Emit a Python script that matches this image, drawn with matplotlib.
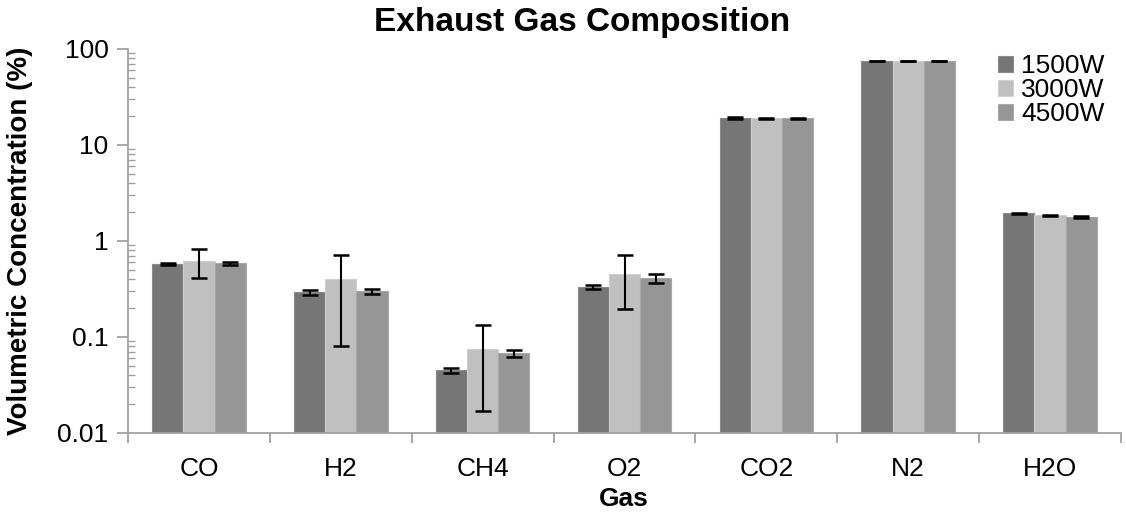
import matplotlib
matplotlib.use("Agg")
import matplotlib.pyplot as plt
import numpy as np
from matplotlib.ticker import LogLocator, FixedLocator, NullFormatter, FixedFormatter

plt.rcParams['font.family'] = ['Liberation Sans', 'DejaVu Sans']

gases = ["CO", "H2", "CH4", "O2", "CO2", "N2", "H2O"]
series = ["1500W", "3000W", "4500W"]
vals_1500 = [0.575, 0.292, 0.045, 0.330, 19.1, 75.0, 1.94]
vals_3000 = [0.62, 0.40, 0.075, 0.457, 19.0, 75.0, 1.85]
vals_4500 = [0.586, 0.300, 0.0676, 0.408, 18.9, 75.0, 1.77]
err_1500 = [0.015, 0.015, 0.003, 0.015, 0.3, 0.6, 0.03]
err_3000 = [0.21, 0.32, 0.058, 0.26, 0.3, 0.6, 0.03]
err_4500 = [0.025, 0.02, 0.005, 0.045, 0.3, 0.6, 0.03]
colors = ["#767676", "#c0c0c0", "#969696"]
edges = ["#8a8a8a", "#d0d0d0", "#a8a8a8"]
yticks = [0.01, 0.1, 1, 10, 100]
ytick_labels = ["0.01", "0.1", "1", "10", "100"]

fig = plt.figure(figsize=(11.26, 5.12), dpi=100)
ax = fig.add_axes([128/1126, 1 - 433/512, (1121-128)/1126, (433-49)/512])

x = np.arange(len(gases))
w = 0.22
for i, (vals, errs) in enumerate(zip([vals_1500, vals_3000, vals_4500], [err_1500, err_3000, err_4500])):
    ax.bar(x + (i - 1) * w, vals, width=w, color=colors[i], edgecolor=edges[i], linewidth=0.8,
           label=series[i], zorder=2)
    ax.errorbar(x + (i - 1) * w, vals, yerr=errs, fmt='none', ecolor='black', elinewidth=1.5,
                capsize=5.8, capthick=1.8, zorder=3)

ax.set_yscale('log')
ax.set_ylim(0.01, 100)
ax.set_xlim(-0.5, len(gases) - 0.5)
ax.yaxis.set_major_locator(FixedLocator(yticks))
ax.yaxis.set_major_formatter(FixedFormatter(ytick_labels))
ax.yaxis.set_minor_locator(LogLocator(base=10, subs=np.arange(2, 10)))
ax.yaxis.set_minor_formatter(NullFormatter())

ax.set_xticks(x)
ax.set_xticklabels(gases)
ax.set_xticks(np.arange(-0.5, len(gases) + 0.5, 1), minor=True)

for s in ['top', 'right']:
    ax.spines[s].set_visible(False)
for s in ['left', 'bottom']:
    ax.spines[s].set_color('#a0a0a0')
    ax.spines[s].set_linewidth(1.3)

ax.tick_params(axis='y', which='major', direction='out', length=8, width=1.3, color='#a0a0a0',
               labelsize=19, pad=6)
ax.tick_params(axis='y', which='minor', direction='in', length=5, width=1.0, color='#a0a0a0')
ax.tick_params(axis='x', which='major', length=0, labelsize=19, pad=17)
ax.tick_params(axis='x', which='minor', direction='out', length=7, width=1.3, color='#a0a0a0')

fig.text(582/1126, 1 - 23/512, "Exhaust Gas Composition", fontsize=24, fontweight='bold',
         ha='center', va='center')
fig.text(624/1126, 1 - 499/512, "Gas", fontsize=19, fontweight='bold', ha='center', va='center')
fig.text(20/1126, 1 - 241/512, "Volumetric Concentration (%)", fontsize=20, fontweight='bold',
         ha='center', va='center', rotation=90)

leg = ax.legend(loc='upper left', bbox_to_anchor=(998/1126, 1 - 54/512), bbox_transform=fig.transFigure,
                frameon=False, fontsize=19, handlelength=0.57, handleheight=0.55, handletextpad=0.3,
                labelspacing=0.0, borderaxespad=0, borderpad=0)

fig.savefig("out.png", dpi=100)
